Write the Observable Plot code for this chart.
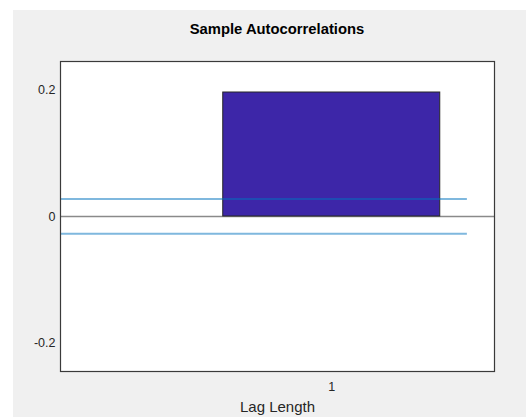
<!DOCTYPE html>
<html>
<head>
<meta charset="utf-8">
<script src="https://cdn.jsdelivr.net/npm/d3@7"></script>
<script src="https://cdn.jsdelivr.net/npm/@observablehq/plot@0.6"></script>
<style>
  html, body { margin: 0; padding: 0; background: #ffffff; }
  #figure {
    position: absolute; left: 13px; top: 10px;
    width: 513px; height: 407px;
    background: #f0f0f0;
    font-family: "Liberation Sans", Arial, Helvetica, sans-serif;
  }
  #title {
    box-sizing: border-box;
    height: 30px; padding-top: 11px;
    width: 513px;
    padding-left: 47px; padding-right: 32px;
    text-align: center;
    font-weight: bold; font-size: 14.8px; line-height: normal;
    color: #000;
  }
</style>
</head>
<body>
<div id="figure"><div id="title">Sample Autocorrelations</div></div>
<script>
// Sample autocorrelation at each lag
const lags = [1];
const acf = [0.196];
// Approximate 95% confidence bounds
const bounds = [0.0278, -0.0272];
// Axis ticks
const yTicks = [-0.2, 0, 0.2];
const yTickLabels = ["-0.2", "0", "0.2"];
const xTicks = [1];

const bars = lags.map((lag, i) => ({lag, value: acf[i]}));
const maxLag = d3.max(lags);

const chart = Plot.plot({
  width: 513,
  height: 377,
  marginLeft: 47,
  marginRight: 32,
  marginTop: 21,
  marginBottom: 46,
  style: {
    background: "#f0f0f0",
    fontFamily: "'Liberation Sans', Arial, Helvetica, sans-serif",
    fontSize: "12.5px",
    color: "#262626"
  },
  x: {domain: [0, maxLag + 0.6]},
  y: {domain: [-0.245, 0.245]},
  marks: [
    Plot.frame({fill: "white", stroke: null}),
    Plot.ruleY([0], {stroke: "#8a8a8a", strokeWidth: 1.6}),
    Plot.rectY(bars, {
      x1: d => d.lag - 0.4,
      x2: d => d.lag + 0.4,
      y1: 0,
      y2: "value",
      fill: "#3d26a8",
      stroke: "#262626",
      strokeWidth: 1,
      insetLeft: 0, insetRight: 0
    }),
    Plot.ruleY(bounds, {
      x1: 0,
      x2: maxLag + 0.5,
      stroke: "#0072bd",
      strokeOpacity: 0.5,
      strokeWidth: 2
    }),
    Plot.frame({stroke: "#3a3a3a", strokeWidth: 1.2}),
    Plot.axisY({
      ticks: yTicks,
      tickFormat: (d) => yTickLabels[yTicks.indexOf(d)],
      tickSize: 0,
      tickPadding: 5,
      label: null,
      fontSize: 12.5,
      fill: "#262626"
    }),
    Plot.axisX({
      ticks: xTicks,
      tickFormat: d => String(d),
      tickSize: 0,
      tickPadding: 10.5,
      label: "Lag Length",
      labelAnchor: "center",
      labelArrow: "none",
      labelOffset: 40,
      fontSize: 12.5,
      fill: "#262626"
    })
  ]
});

// larger font for the axis label
d3.select(chart).selectAll("g[aria-label='x-axis label'] text").style("font-size", "15px");
document.getElementById("figure").appendChild(chart);
</script>
</body>
</html>
